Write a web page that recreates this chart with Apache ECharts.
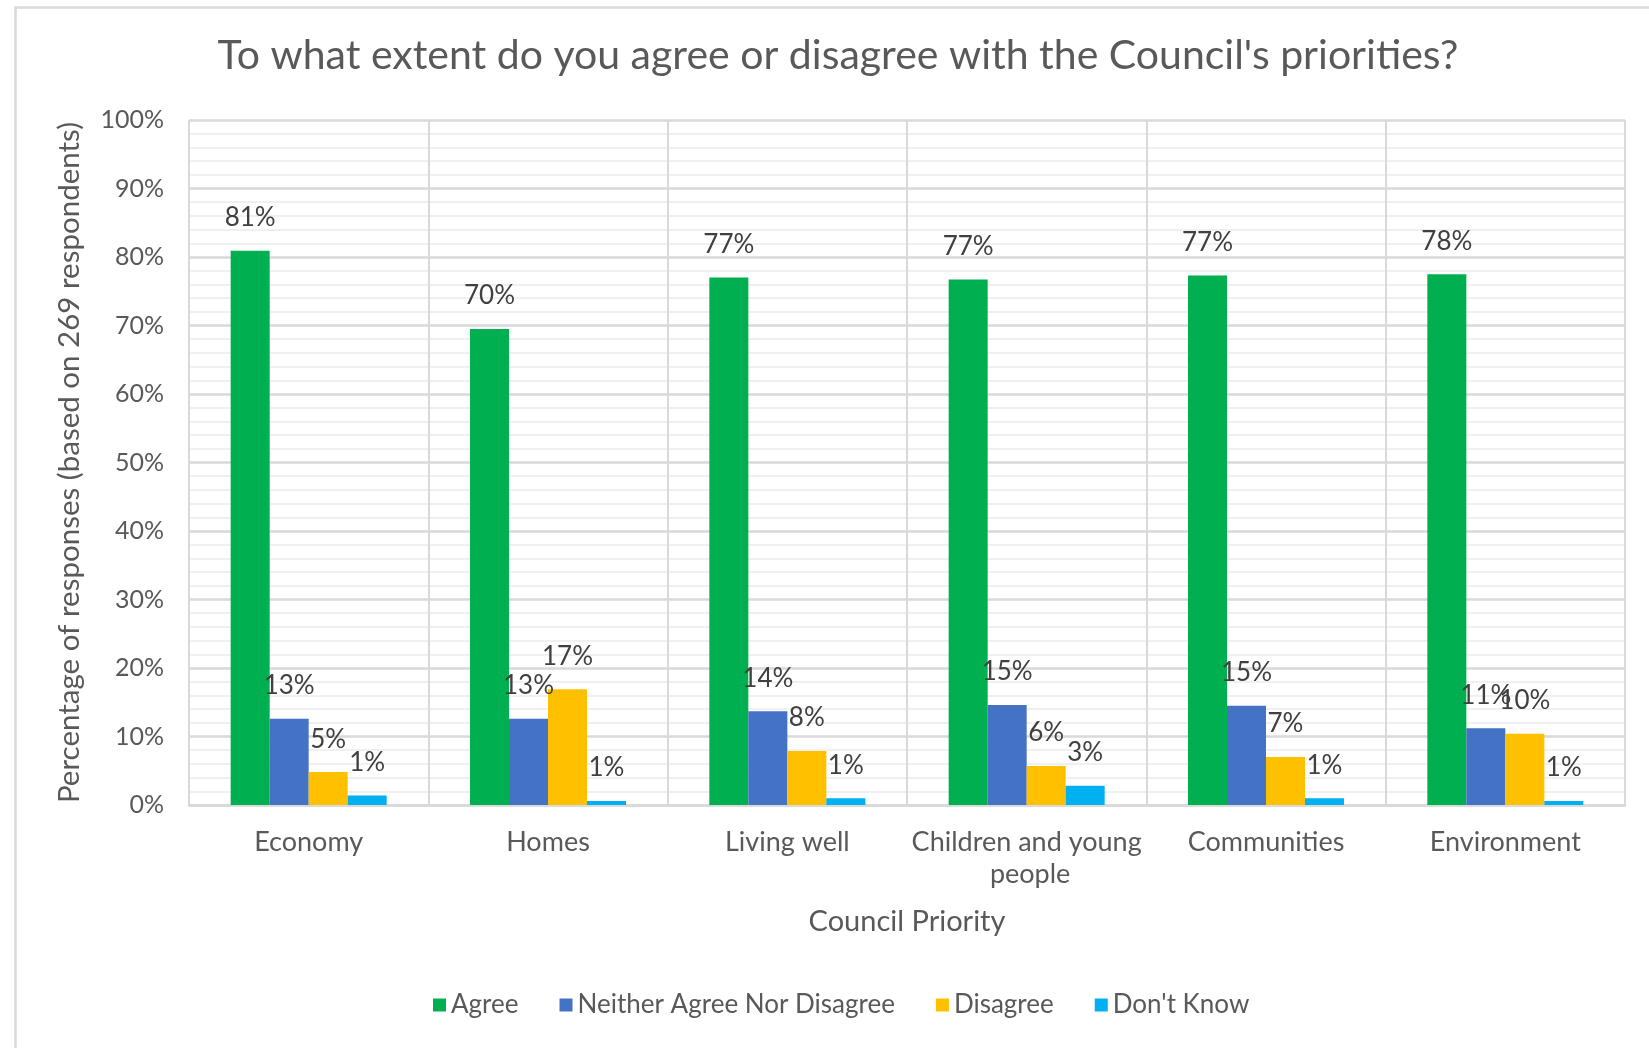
<!DOCTYPE html>
<html>
<head>
<meta charset="utf-8">
<script src="https://cdn.jsdelivr.net/npm/echarts@6/dist/echarts.min.js"></script>
<style>
html,body{margin:0;padding:0;background:#fff;}
#chart{width:1649px;height:1048px;}
</style>
</head>
<body>
<div id="chart"></div>
<script>
const categories = ['Economy', 'Homes', 'Living well', 'Children and young people', 'Communities', 'Environment'];
const agree = [80.9, 69.5, 77.0, 76.7, 77.3, 77.5];
const neither = [12.6, 12.6, 13.7, 14.6, 14.5, 11.2];
const disagree = [4.8, 16.9, 7.9, 5.7, 7.0, 10.4];
const dontKnow = [1.4, 0.6, 1.0, 2.8, 1.0, 0.6];
const seriesNames = ['Agree', 'Neither Agree Nor Disagree', 'Disagree', "Don't Know"];
const colors = ['#00b050', '#4472c4', '#ffc000', '#00b0f0'];

const FONT = 'Lato';
const chart = echarts.init(document.getElementById('chart'));
const mk = (name, data, color) => ({
  name: name,
  type: 'bar',
  data: data,
  barWidth: 39,
  barGap: '0%',
  itemStyle: { color: color },
  label: {
    show: true,
    position: 'top',
    distance: 20,
    fontFamily: FONT,
    fontSize: 26,
    color: '#404040',
    formatter: p => Math.round(p.value) + '%'
  }
});
chart.setOption({
  animation: false,
  textStyle: { fontFamily: FONT },
  title: {
    text: "To what extent do you agree or disagree with the Council's priorities?",
    left: 833,
    textAlign: 'center',
    top: 30,
    textStyle: { fontFamily: FONT, fontSize: 41, fontWeight: 'normal', color: '#595959' }
  },
  graphic: [{
    type: 'rect',
    left: 13, top: 5,
    shape: { width: 1700, height: 1100 },
    style: { fill: 'none', stroke: '#d9d9d9', lineWidth: 2.5 },
    silent: true
  }],
  legend: {
    left: 428,
    top: 987,
    itemWidth: 13,
    itemHeight: 13,
    itemGap: 41,
    icon: 'rect',
    data: seriesNames,
    textStyle: { fontFamily: FONT, fontSize: 26, color: '#595959' }
  },
  grid: { left: 189, right: 24, top: 120, bottom: 243 },
  xAxis: {
    type: 'category',
    data: categories,
    name: 'Council Priority',
    nameLocation: 'middle',
    nameGap: 102,
    nameTextStyle: { fontFamily: FONT, fontSize: 29, color: '#595959' },
    axisLine: { show: true, lineStyle: { color: '#d9d9d9', width: 2.5 } },
    axisTick: { show: false },
    splitLine: { show: true, interval: 0, lineStyle: { color: '#d9d9d9', width: 2 } },
    axisLabel: {
      interval: 0,
      margin: 21,
      fontFamily: FONT,
      fontSize: 27,
      color: '#595959',
      lineHeight: 32,
      width: 236,
      overflow: 'break'
    }
  },
  yAxis: {
    type: 'value',
    min: 0, max: 100, interval: 10,
    name: 'Percentage of responses (based on 269 respondents)',
    nameLocation: 'middle',
    nameGap: 105,
    nameRotate: 90,
    nameTextStyle: { fontFamily: FONT, fontSize: 29.5, color: '#595959' },
    axisLine: { show: false },
    axisTick: { show: false },
    axisLabel: { formatter: '{value}%', margin: 25, fontFamily: FONT, fontSize: 25, color: '#595959' },
    splitLine: { show: true, lineStyle: { color: '#d9d9d9', width: 2.5 } },
    minorTick: { show: false, splitNumber: 5 },
    minorSplitLine: { show: true, lineStyle: { color: '#f0f0f0', width: 2 } }
  },
  series: [
    mk(seriesNames[0], agree, colors[0]),
    mk(seriesNames[1], neither, colors[1]),
    mk(seriesNames[2], disagree, colors[2]),
    mk(seriesNames[3], dontKnow, colors[3])
  ]
});
</script>
</body>
</html>
